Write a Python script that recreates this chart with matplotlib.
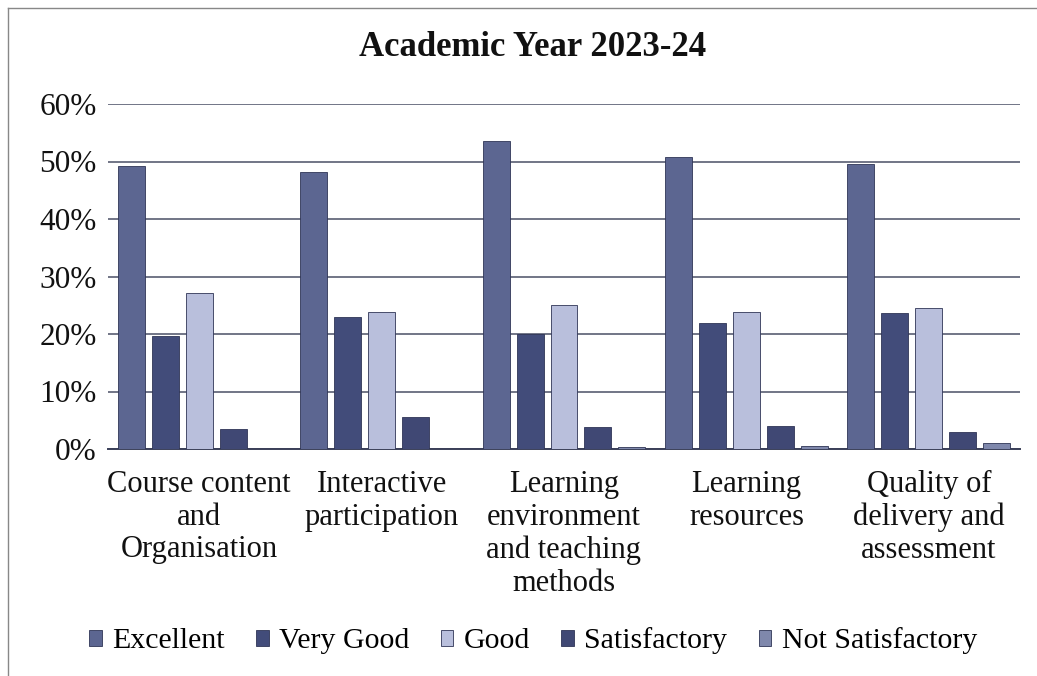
import matplotlib.pyplot as plt
import numpy as np

categories = ["Course content\nand\nOrganisation", "Interactive\nparticipation",
              "Learning\nenvironment\nand teaching\nmethods", "Learning\nresources",
              "Quality of\ndelivery and\nassessment"]
series = ["Excellent", "Very Good", "Good", "Satisfactory", "Not Satisfactory"]
excellent = [49.2, 48.2, 53.6, 50.7, 49.6]
very_good = [19.6, 23.0, 20.0, 21.9, 23.6]
good = [27.2, 23.9, 25.0, 23.8, 24.6]
satisfactory = [3.5, 5.5, 3.9, 4.0, 2.9]
not_satisfactory = [0.0, 0.0, 0.3, 0.5, 1.0]
yticks = [0, 10, 20, 30, 40, 50, 60]

values = [excellent, very_good, good, satisfactory, not_satisfactory]
colors = ["#5c6691", "#424c7a", "#b9bfdc", "#404874", "#7f88ac"]

plt.rcParams["font.family"] = ["Liberation Serif", "DejaVu Serif"]

fig = plt.figure(figsize=(10.37, 6.76), dpi=100)
W, H = 1037, 676
ax = fig.add_axes([108 / W, 1 - 449 / H, (1020 - 108) / W, (449 - 104) / H])

x = np.arange(len(categories))
step = 0.186
width = 0.148
for k, (name, vals) in enumerate(zip(series, values)):
    ax.bar(x + (k - 2) * step, vals, width, color=colors[k], label=name,
           edgecolor="#2f3556", linewidth=0.6, zorder=3)

ax.set_xlim(-0.5, 4.5)
ax.set_ylim(0, 60)
ax.set_yticks(yticks, labels=[f"{t}%" for t in yticks])
ax.set_xticks(x, labels=categories)
ax.yaxis.grid(True, color="#4a4f66", linewidth=1.1, zorder=0)
for s in ["top", "right", "left"]:
    ax.spines[s].set_visible(False)
ax.spines["bottom"].set_color("#3a3f58")
ax.spines["bottom"].set_linewidth(1.4)
ax.tick_params(axis="y", length=0, pad=8, labelsize=22.5, labelcolor="#111")
ax.tick_params(axis="x", length=0, pad=15, labelsize=22, labelcolor="#111")
for lbl in ax.get_xticklabels():
    lbl.set_multialignment("center")
    lbl.set_linespacing(1.17)

fig.text(533 / W, 1 - 48 / H, "Academic Year 2023-24", ha="center", va="center",
         fontsize=25, fontweight="bold", color="#111")

fig.legend(loc="center", bbox_to_anchor=(533 / W, 1 - 641 / H), ncol=5, frameon=False,
           fontsize=21.5, handlelength=0.42, handleheight=0.42, handletextpad=0.35,
           columnspacing=1.05)

# chart frame
fig.add_artist(plt.Line2D([8 / W, 8 / W], [0, 1 - 8 / H], color="#888", linewidth=1))
fig.add_artist(plt.Line2D([8 / W, 1], [1 - 8 / H, 1 - 8 / H], color="#888", linewidth=1))

fig.savefig("out.png", dpi=100)
